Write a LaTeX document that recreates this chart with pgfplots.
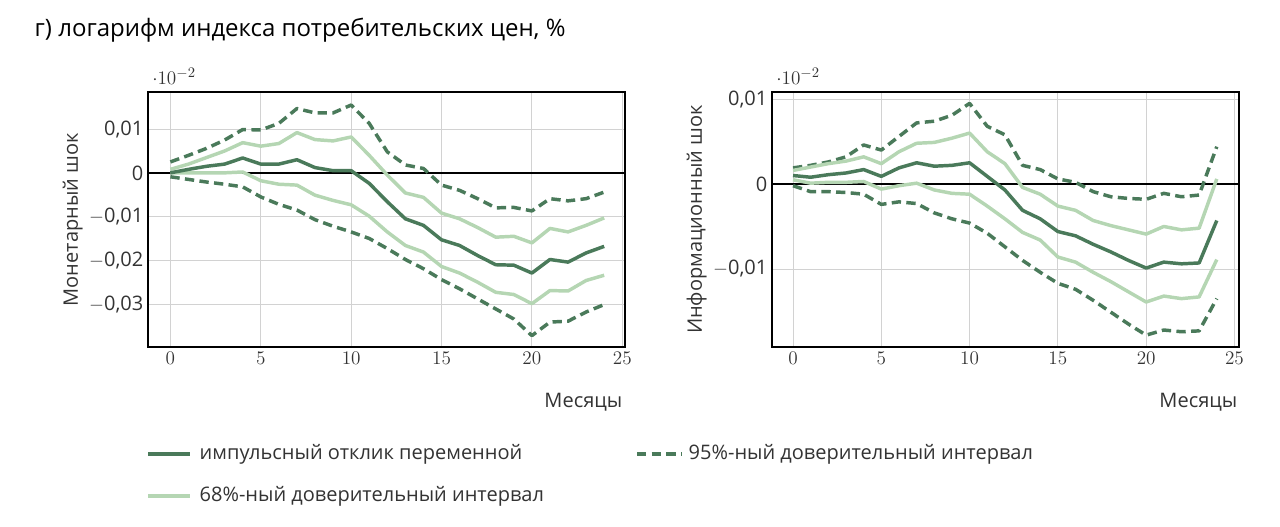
\documentclass[border=0pt]{standalone}
\usepackage{pgfplots}
\pgfplotsset{compat=1.18}
\usepackage{fontspec}
\setmainfont{Open Sans}
\definecolor{dk}{HTML}{4A7A5A}
\definecolor{lt}{HTML}{B5D6B3}
\pgfplotsset{myax/.style={scale only axis, anchor=south west,
 axis line style={line width=1.6pt,black}, grid=major, grid style={gray!35,line width=0.6pt},
 tick style={draw=none}, xtick={0,5,10,15,20,25},
 tick label style={font=\fontsize{15}{15}\selectfont, text=black!80},
 label style={font=\fontsize{15}{15}\selectfont, text=black!80},
 every axis plot/.append style={line width=2.6pt, line join=round},
 clip=true},
 d/.style={dk,dashed,dash pattern=on 7pt off 4pt},
 m/.style={dk}, l/.style={lt}}
\begin{document}
\begin{tikzpicture}
\useasboundingbox (0,0) rectangle (960pt,394.5pt);
\node[anchor=west,font=\fontsize{18}{18}\selectfont] at (22.5pt,372pt) {г) логарифм индекса потребительских цен, \%};
\begin{axis}[myax, at={(111pt,134.25pt)}, width=358pt, height=191pt,
 xmin=-1.24, xmax=25.17, ymin=-0.0398, ymax=0.0184,
 ytick={0.01,0,-0.01,-0.02,-0.03}, yticklabels={0{,}01,0,$-$0{,}01,$-$0{,}02,$-$0{,}03},
 ylabel={Монетарный шок}, ylabel style={yshift=-2pt}]
\addplot[black,line width=1.6pt] coordinates {(-2,0) (26,0)};
\addplot[d] coordinates {(0,.0025)(1,.004)(2,.0056)(3,.0075)(4,.0099)(5,.0098)(6,.0113)(7,.0147)(8,.0137)(9,.0137)(10,.0155)(11,.0113)(12,.0048)(13,.0018)(14,.001)(15,-.0028)(16,-.004)(17,-.0059)(18,-.008)(19,-.0079)(20,-.0087)(21,-.0059)(22,-.0064)(23,-.0059)(24,-.0044)};
\addplot[d] coordinates {(0,-.0009)(1,-.0015)(2,-.0021)(3,-.0026)(4,-.0032)(5,-.0055)(6,-.0072)(7,-.0085)(8,-.0107)(9,-.0122)(10,-.0135)(11,-.015)(12,-.0173)(13,-.0198)(14,-.0219)(15,-.0244)(16,-.0265)(17,-.0288)(18,-.0311)(19,-.0334)(20,-.0372)(21,-.0341)(22,-.0339)(23,-.0318)(24,-.0301)};
\addplot[l] coordinates {(0,.0008)(1,.002)(2,.0035)(3,.005)(4,.0069)(5,.0061)(6,.0067)(7,.0092)(8,.0076)(9,.0073)(10,.0082)(11,.004)(12,-.0005)(13,-.0046)(14,-.0056)(15,-.0092)(16,-.0105)(17,-.0125)(18,-.0147)(19,-.0145)(20,-.016)(21,-.0127)(22,-.0135)(23,-.012)(24,-.0103)};
\addplot[l] coordinates {(0,0)(1,0)(2,0)(3,0)(4,.0002)(5,-.0018)(6,-.0026)(7,-.0028)(8,-.0051)(9,-.0063)(10,-.0073)(11,-.0099)(12,-.0135)(13,-.0166)(14,-.0181)(15,-.0214)(16,-.0229)(17,-.025)(18,-.0273)(19,-.0278)(20,-.0299)(21,-.0269)(22,-.027)(23,-.0246)(24,-.0234)};
\addplot[m] coordinates {(0,0)(1,.0008)(2,.0015)(3,.002)(4,.0034)(5,.002)(6,.002)(7,.003)(8,.0012)(9,.0005)(10,.0005)(11,-.0024)(12,-.0066)(13,-.0105)(14,-.012)(15,-.0153)(16,-.0166)(17,-.0189)(18,-.021)(19,-.0211)(20,-.0229)(21,-.0198)(22,-.0204)(23,-.0183)(24,-.0168)};
\end{axis}
\begin{axis}[myax, at={(579pt,134.25pt)}, width=350pt, height=191pt,
 xmin=-1.19, xmax=25.24, ymin=-0.0192, ymax=0.0108,
 ytick={0.01,0,-0.01}, yticklabels={0{,}01,0,$-$0{,}01},
 ylabel={Информационный шок}, ylabel style={yshift=-2pt}]
\addplot[black,line width=1.6pt] coordinates {(-2,0) (26,0)};
\addplot[d] coordinates {(0,.0019)(1,.0022)(2,.0026)(3,.0032)(4,.0046)(5,.004)(6,.0056)(7,.0072)(8,.0074)(9,.0081)(10,.0095)(11,.0068)(12,.0058)(13,.0022)(14,.0017)(15,.0006)(16,.0002)(17,-.0009)(18,-.0015)(19,-.0017)(20,-.0018)(21,-.0011)(22,-.0015)(23,-.0013)(24,.0044)};
\addplot[d] coordinates {(0,-.0002)(1,-.0009)(2,-.0009)(3,-.001)(4,-.0012)(5,-.0024)(6,-.0021)(7,-.0023)(8,-.0034)(9,-.0041)(10,-.0046)(11,-.0058)(12,-.0074)(13,-.009)(14,-.0104)(15,-.0117)(16,-.0124)(17,-.0137)(18,-.0151)(19,-.0165)(20,-.0178)(21,-.0172)(22,-.0174)(23,-.0173)(24,-.0135)};
\addplot[l] coordinates {(0,.0016)(1,.002)(2,.0024)(3,.0027)(4,.0032)(5,.0024)(6,.0038)(7,.0048)(8,.0049)(9,.0054)(10,.006)(11,.0038)(12,.0024)(13,-.0004)(14,-.0012)(15,-.0026)(16,-.0031)(17,-.0043)(18,-.0049)(19,-.0054)(20,-.0059)(21,-.005)(22,-.0054)(23,-.0052)(24,.0006)};
\addplot[l] coordinates {(0,.0005)(1,.0001)(2,.0002)(3,.0002)(4,.0003)(5,-.0006)(6,-.0002)(7,.0001)(8,-.0007)(9,-.0011)(10,-.0012)(11,-.0026)(12,-.0041)(13,-.0057)(14,-.0066)(15,-.0086)(16,-.0092)(17,-.0104)(18,-.0115)(19,-.0127)(20,-.0139)(21,-.0132)(22,-.0135)(23,-.0133)(24,-.0089)};
\addplot[m] coordinates {(0,.001)(1,.0008)(2,.0011)(3,.0013)(4,.0017)(5,.0009)(6,.0019)(7,.0025)(8,.0021)(9,.0022)(10,.0025)(11,.0009)(12,-.0007)(13,-.0031)(14,-.0041)(15,-.0056)(16,-.0061)(17,-.0071)(18,-.008)(19,-.009)(20,-.0099)(21,-.0092)(22,-.0094)(23,-.0093)(24,-.0043)};
\end{axis}
\begin{scope}[font=\fontsize{15}{15}\selectfont, text=black!80]
\node[anchor=east] at (470.25pt,93pt) {Месяцы};
\node[anchor=east] at (931.5pt,93pt) {Месяцы};
\draw[dk,line width=2.6pt] (111pt,54pt) -- (142.5pt,54pt);
\node[anchor=west] at (146.25pt,54pt) {импульсный отклик переменной};
\draw[dk,line width=2.6pt,dash pattern=on 7pt off 4pt] (477.75pt,54pt) -- (511.5pt,54pt);
\node[anchor=west] at (513pt,54pt) {95\%-ный доверительный интервал};
\draw[lt,line width=2.6pt] (111pt,22.5pt) -- (142.5pt,22.5pt);
\node[anchor=west] at (146.25pt,22.5pt) {68\%-ный доверительный интервал};
\end{scope}
\end{tikzpicture}
\end{document}
